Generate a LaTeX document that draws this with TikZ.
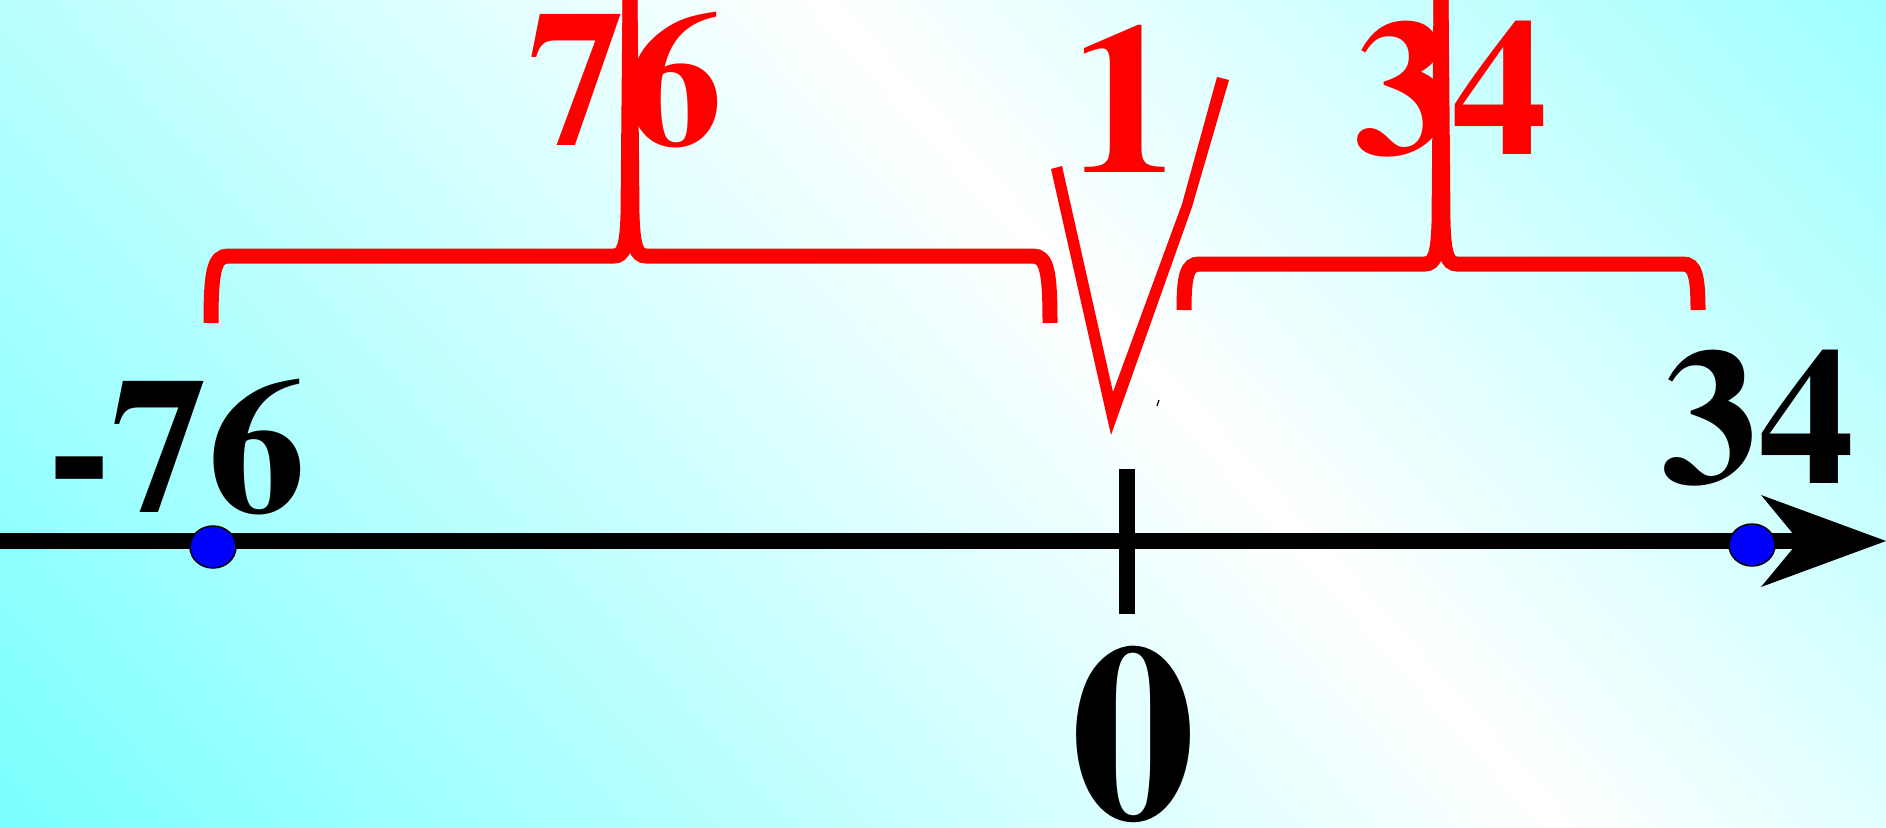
\documentclass[tikz,border=0pt]{standalone}
\usepackage[T1]{fontenc}
\renewcommand{\rmdefault}{ptm}
\usetikzlibrary{arrows.meta,shapes.geometric}
\definecolor{cMark}{HTML}{FF0000}
\definecolor{cDot}{HTML}{0000FF}
\definecolor{cBgLow}{HTML}{76FFFF}
\definecolor{cBgHigh}{HTML}{6CFFFF}
\tikzset{
  num/.style    ={inner sep=0pt, anchor=base west,
                  font=\fontsize{194}{194}\selectfont\bfseries},
  rednum/.style ={num, text=cMark},
  axis/.style   ={draw=black, line width=16pt,
                  -{Stealth[length=125pt, width=92pt, inset=38pt, line width=0pt]}},
  tickmark/.style={draw=black, line width=16pt},
  dot/.style    ={ellipse, draw=black, line width=1.5pt, fill=cDot,
                  minimum width=46pt, minimum height=42pt, inner sep=0pt},
  brace/.style  ={draw=cMark, line width=15pt},
}

\begin{document}
\begin{tikzpicture}[x=1pt, y=-1pt]

  % ===== background (diagonal cyan / white / cyan) =====
  \useasboundingbox (0,0) rectangle (1886,827);
  \begin{scope}
    \clip (0,0) rectangle (1886,827);
    \shade[top color=cBgHigh, bottom color=cBgLow, middle color=white,
           shading angle=-48.2] (-10,-786.5) rectangle (2390,1613.5);
  \end{scope}

  % ===== number line =====
  \coordinate (axL) at (0,541);
  \coordinate (axR) at (1886,541);
  \draw[axis] (axL) -- (axR);

  % ---- origin tick ----
  \coordinate (tickT) at (1127,469);
  \coordinate (tickB) at (1127,614);
  \draw[tickmark] (tickT) -- (tickB);

  % ---- points ----
  \node[dot] (d76) at (213,547) {};
  \node[dot] (d34) at (1752,545) {};

  % ---- point labels ----
  \node[num] (m76) at (47,512) {-76};
  \node[num] (p34) at (1661,483) {34};
  \node[num, anchor=base, font=\fontsize{252}{252}\selectfont\bfseries]
    (zero) at (1133,819) {0};

  % ===== distance braces =====
  % -76 .. 0
  \draw[brace] (211,323) .. controls (211,272) and (214,256) .. (228,256) -- (614,256)
    .. controls (624,256) and (627,245) .. (628,215) -- (630,-5);
  \draw[brace] (1050,323) .. controls (1050,272) and (1047,256) .. (1033,256) -- (646,256)
    .. controls (636,256) and (633,245) .. (632,215) -- (630,-5);
  \node[rednum] (br76) at (528,145) {76};

  % 0 .. 34
  \draw[brace] (1184,310) .. controls (1184,276) and (1187,264) .. (1199,264) -- (1425,264)
    .. controls (1435,264) and (1438,253) .. (1439,223) -- (1441,-5);
  \draw[brace] (1698,310) .. controls (1698,276) and (1695,264) .. (1683,264) -- (1457,264)
    .. controls (1447,264) and (1444,253) .. (1443,223) -- (1441,-5);
  \node[rednum] (br34) at (1354,154) {34};

  % ===== check mark + 1 =====
  \fill[cMark] (1051,169) -- (1062,166) -- (1113,392) -- (1182,204) -- (1217,77)
    -- (1229,80) -- (1192,207) -- (1111,435) -- cycle;
  \node[rednum, anchor=base, font=\fontsize{214}{214}\selectfont\bfseries]
    (one) at (1124,172) {1};
  \draw[line width=1.2pt] (1157,406) -- (1159,400);

\end{tikzpicture}
\end{document}
